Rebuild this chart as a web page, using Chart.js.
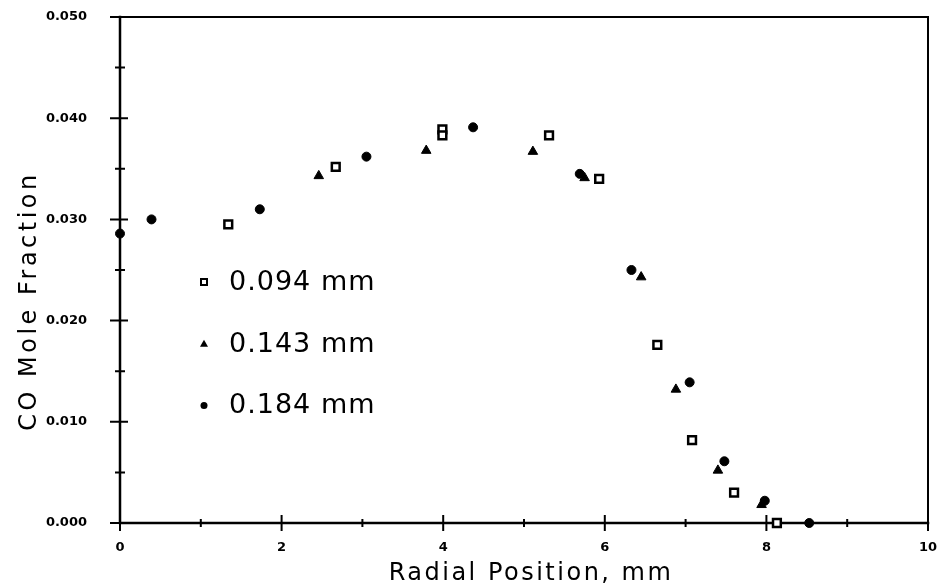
<!DOCTYPE html>
<html>
<head>
<meta charset="utf-8">
<script src="https://cdn.jsdelivr.net/npm/chart.js@4.4.1/dist/chart.umd.min.js"></script>
<style>
  html, body { margin: 0; padding: 0; background: #fff; }
  canvas { display: block; }
</style>
</head>
<body>
<canvas id="chart" width="937" height="587"></canvas>
<script>
// Series values (x = radial position mm, y = CO mole fraction)
const seriesNames = ['0.094 mm', '0.143 mm', '0.184 mm'];

const x094 = [1.34, 2.67, 3.99, 3.99, 5.31, 5.93, 6.65, 7.08, 7.60, 8.13];
const y094 = [0.0295, 0.0352, 0.0389, 0.0383, 0.0383, 0.0340, 0.0176, 0.0082, 0.0030, 0.0000];

const x143 = [2.46, 3.79, 5.11, 5.75, 6.45, 6.88, 7.40, 7.94];
const y143 = [0.0343, 0.0368, 0.0367, 0.0341, 0.0243, 0.0132, 0.0052, 0.0018];

const x184 = [0.00, 0.39, 1.73, 3.05, 4.37, 5.69, 6.33, 7.05, 7.48, 7.98, 8.53];
const y184 = [0.0286, 0.0300, 0.0310, 0.0362, 0.0391, 0.0345, 0.0250, 0.0139, 0.0061, 0.0022, 0.0000];

// Axis ticks
const xMajorTicks = [0, 2, 4, 6, 8, 10];
const yMajorTicks = [0.000, 0.010, 0.020, 0.030, 0.040, 0.050];

const xTitle = 'Radial Position, mm';
const yTitle = 'CO Mole Fraction';

function toPoints(xs, ys) {
  return xs.map(function (v, i) { return {x: v, y: ys[i]}; });
}

function isMajor(list, v) {
  return list.some(function (m) { return Math.abs(m - v) < 1e-9; });
}

const titleFont = '24px "DejaVu Sans"';
const tickFont = {family: '"DejaVu Sans", sans-serif', size: 13, weight: 'bold'};

// frame + crossing tick marks, titles and the in-plot legend
const frameTicks = {
  id: 'frameTicks',
  beforeDatasetsDraw(chart) {
    const ctx = chart.ctx;
    const a = chart.chartArea;
    const xs = chart.scales.x;
    const ys = chart.scales.y;
    ctx.save();
    ctx.strokeStyle = '#000';
    ctx.lineCap = 'square';

    ctx.lineWidth = 2;
    ctx.beginPath();
    ctx.moveTo(a.left, a.top);
    ctx.lineTo(a.right, a.top);
    ctx.lineTo(a.right, a.bottom);
    ctx.stroke();

    ctx.lineWidth = 2.5;
    ctx.beginPath();
    ctx.moveTo(a.left, a.top);
    ctx.lineTo(a.left, a.bottom);
    ctx.lineTo(a.right, a.bottom);
    ctx.stroke();

    ctx.lineWidth = 2;
    ctx.lineCap = 'butt';
    ctx.beginPath();
    xs.ticks.forEach(function (t) {
      const px = xs.getPixelForValue(t.value);
      const len = isMajor(xMajorTicks, t.value) ? 8 : 4;
      ctx.moveTo(px, a.bottom - len);
      ctx.lineTo(px, a.bottom + len);
    });
    ys.ticks.forEach(function (t) {
      const py = ys.getPixelForValue(t.value);
      const major = isMajor(yMajorTicks, t.value);
      ctx.moveTo(a.left - (major ? 10 : 5), py);
      ctx.lineTo(a.left + (major ? 8 : 5), py);
    });
    ctx.stroke();
    ctx.restore();
  },
  afterDraw(chart) {
    const ctx = chart.ctx;
    const a = chart.chartArea;
    ctx.save();
    ctx.fillStyle = '#000';
    ctx.strokeStyle = '#000';

    // axis titles
    ctx.font = titleFont;
    ctx.textAlign = 'center';
    ctx.textBaseline = 'alphabetic';
    ctx.letterSpacing = '2.5px';
    ctx.fillText(xTitle, (a.left + a.right) / 2 + 7, 580);

    ctx.save();
    ctx.translate(36, 301);
    ctx.rotate(-Math.PI / 2);
    ctx.letterSpacing = '3.5px';
    ctx.fillText(yTitle, 0, 0);
    ctx.restore();

    // legend inside the plot
    const lx = a.left + 84;
    const ty = a.top + 265;
    const gap = 61.7;
    ctx.font = '27px "DejaVu Sans"';
    ctx.textAlign = 'left';
    ctx.textBaseline = 'middle';
    ctx.letterSpacing = '1px';
    seriesNames.forEach(function (name, i) {
      const cy = ty + i * gap;
      ctx.beginPath();
      if (i === 0) {
        ctx.lineWidth = 2;
        ctx.fillStyle = '#fff';
        ctx.rect(lx - 3, cy - 3, 6, 6);
        ctx.fill();
        ctx.stroke();
      } else if (i === 1) {
        ctx.fillStyle = '#000';
        ctx.moveTo(lx, cy - 4);
        ctx.lineTo(lx + 4, cy + 3);
        ctx.lineTo(lx - 4, cy + 3);
        ctx.closePath();
        ctx.fill();
      } else {
        ctx.fillStyle = '#000';
        ctx.arc(lx, cy, 3.5, 0, Math.PI * 2);
        ctx.fill();
      }
      ctx.fillStyle = '#000';
      ctx.fillText(name, lx + 25, cy + 1);
    });
    ctx.restore();
  }
};

new Chart(document.getElementById('chart'), {
  type: 'scatter',
  data: {
    datasets: [{
      label: seriesNames[0],
      data: toPoints(x094, y094),
      pointStyle: 'rect',
      pointRadius: 5.5,
      borderWidth: 2.5,
      borderColor: '#000',
      backgroundColor: '#fff',
      clip: false
    }, {
      label: seriesNames[1],
      data: toPoints(x143, y143),
      pointStyle: 'triangle',
      pointRadius: 5.5,
      borderWidth: 1,
      borderColor: '#000',
      backgroundColor: '#000',
      clip: false
    }, {
      label: seriesNames[2],
      data: toPoints(x184, y184),
      pointStyle: 'circle',
      pointRadius: 4.5,
      borderWidth: 1,
      borderColor: '#000',
      backgroundColor: '#000',
      clip: false
    }]
  },
  options: {
    responsive: false,
    animation: false,
    layout: {padding: {left: 0, right: 9, top: 17, bottom: 0}},
    plugins: {
      legend: {display: false},
      tooltip: {enabled: false}
    },
    scales: {
      x: {
        type: 'linear',
        min: 0,
        max: 10,
        grid: {display: false},
        border: {display: false},
        ticks: {
          stepSize: 1,
          autoSkip: false,
          maxRotation: 0,
          padding: 9,
          color: '#000',
          font: tickFont,
          callback: function (v) { return isMajor(xMajorTicks, v) ? String(v) : ''; }
        },
        afterFit: function (s) {
          s.height = 64;
          s.paddingLeft = 0;
          s.paddingRight = 0;
        }
      },
      y: {
        min: 0,
        max: 0.05,
        grid: {display: false},
        border: {display: false},
        ticks: {
          stepSize: 0.005,
          autoSkip: false,
          padding: 25,
          color: '#000',
          font: tickFont,
          callback: function (v) { return isMajor(yMajorTicks, v) ? v.toFixed(3) : ''; }
        },
        afterFit: function (s) {
          s.width = 120;
          s.paddingTop = 0;
          s.paddingBottom = 0;
        }
      }
    }
  },
  plugins: [frameTicks]
});
</script>
</body>
</html>
